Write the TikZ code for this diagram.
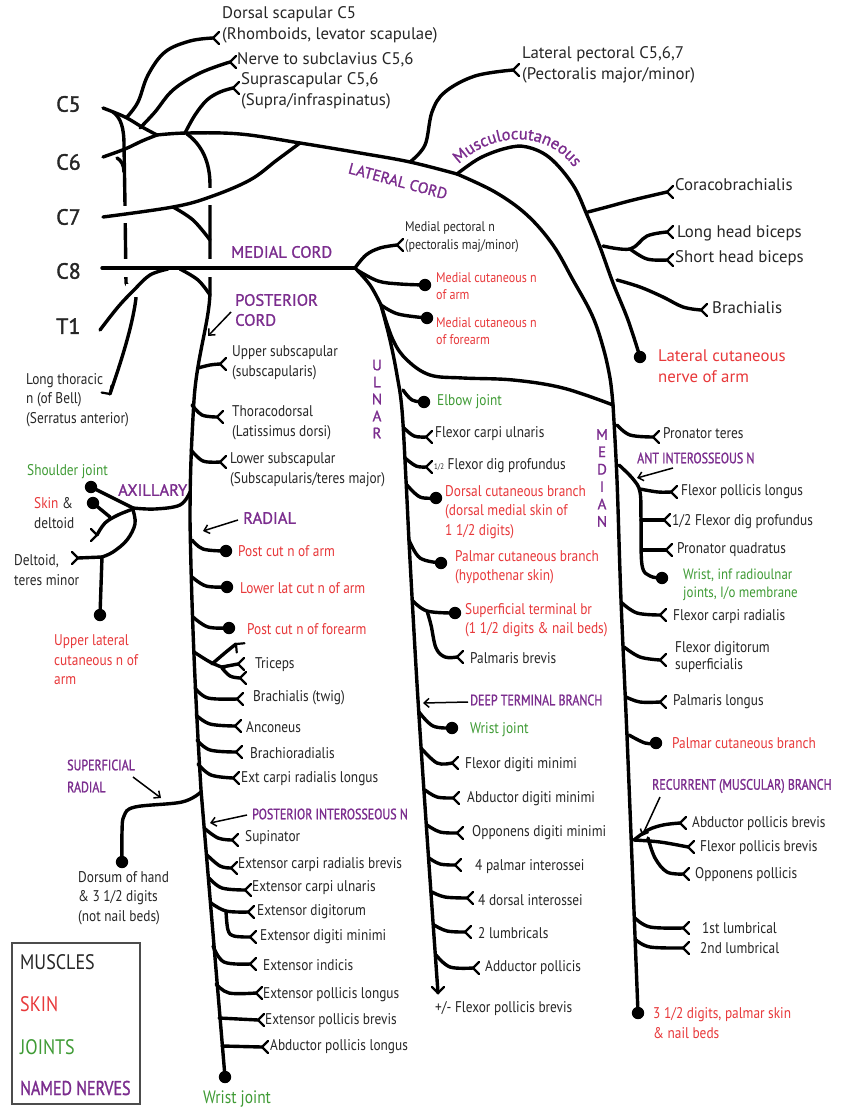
\documentclass[tikz,border=0pt]{standalone}
\usepackage{fontspec}
\setmainfont{PT Sans}
\newfontfamily\condfont[FakeStretch=0.86]{PT Sans}
\newfontfamily\purfont[FakeStretch=0.8,FakeBold=1.2]{PT Sans}
\newfontfamily\purwide[FakeBold=1.2]{PT Sans}
\newfontfamily\rootfont[FakeBold=1.6]{PT Sans}
\usetikzlibrary{arrows.meta,decorations.text}
\definecolor{npurple}{HTML}{7B2D8E}
\definecolor{nred}{HTML}{E8383A}
\definecolor{ngreen}{HTML}{3F9B35}
\definecolor{txt}{HTML}{262626}
\tikzset{
  nerve/.style={line width=3.4pt,line cap=round,line join=round},
  twig/.style={line width=2.2pt,line cap=round,line join=round},
  arr/.style={line width=1.5pt,-{Straight Barb[length=5pt,width=9pt]}},
  lab/.style={anchor=west,inner sep=0pt,align=left,text=txt,font=\condfont\fontsize{15.5}{19.5}\selectfont},
  labA/.style={anchor=west,inner sep=0pt,align=left,text=txt,font=\fontsize{16.8}{21}\selectfont},
  rootlab/.style={anchor=west,inner sep=0pt,text=txt,font=\rootfont\fontsize{22}{22}\selectfont},
  skin/.style={text=nred},
  joint/.style={text=ngreen},
  nn/.style={anchor=west,inner sep=0pt,align=left,text=npurple,font=\purwide\fontsize{16.5}{20}\selectfont},
  nns/.style={nn,font=\purfont\fontsize{15}{22}\selectfont},
  sp/.style={smooth,tension=0.6}
}
\newcommand\frk[2][0]{\draw[twig,shift={(#2)},rotate=#1] (0,0) -- (6,-6) (0,0) -- (6,6);}
\newcommand\dt[1]{\fill (#1) circle (6.2pt);}
\begin{document}
\begin{tikzpicture}[x=1pt,y=-1pt]
\useasboundingbox[fill=white] (0,0) rectangle (841,1110);

% ---------- roots region: lines that are crossed ----------
\draw[nerve] (113,112) .. controls (121,118) and (124,128) .. (124,145) -- (125,205) -- (126,283)
   .. controls (128,290) and (136,290) .. (136,298) .. controls (132,330) and (118,370) .. (110,394);
\draw[nerve] (117,158) .. controls (121,160) and (124,165) .. (124,172);
\frk[125]{110,394}
\draw[nerve] (187,134) .. controls (202,145) and (210,162) .. (210,185) -- (210,290)
   .. controls (210,320) and (197,355) .. (194,400) .. controls (191,450) and (190,480) .. (190,520)
   .. controls (192,640) and (198,740) .. (201,790) -- (225,1077);
\fill[white] (116,206) rectangle (134,223);
\fill[white] (117,259) rectangle (135,277);
\fill[white] (126,284) rectangle (143,297);
\fill[white] (202,188) rectangle (218,205);
\fill[white] (202,259) rectangle (218,277);

% ---------- roots and trunks ----------
\draw[nerve] plot[sp] coordinates {(103,217) (173,207) (210,197) (250,180) (277,160) (300,143)};
\draw[nerve] (102,268) -- (355,268);
\draw[nerve] plot[sp] coordinates {(100,330) (118,307) (134,290) (150,275) (168,269)};
\draw[nerve] plot[sp] coordinates {(103,108) (125,117) (142,127) (157,135)};
\draw[nerve] plot[sp] coordinates {(103,157) (125,149) (142,141) (157,135)};
\draw[nerve] plot[sp] coordinates {(157,135) (187,133) (240,134) (300,143) (360,153) (410,162) (457,174)};
\draw[nerve] plot[sp] coordinates {(173,207) (193,220) (210,240)};
\draw[nerve] plot[sp] coordinates {(180,269) (198,280) (210,295)};
\draw[nerve] plot[sp] coordinates {(127,117) (138,102) (148,75) (165,52) (190,41) (213,38)};
\frk{213,38}
\draw[nerve] plot[sp] coordinates {(140,128) (155,112) (173,90) (200,73) (230,62)};
\frk{230,62}
\draw[nerve] plot[sp] coordinates {(185,133) (195,115) (207,100) (220,92) (233,88)};
\frk{233,88}
\draw[nerve] plot[sp] coordinates {(410,162) (425,145) (432,112) (445,92) (475,76) (513,70)};
\frk{513,70}
\draw[nerve] plot[sp] coordinates {(457,174) (495,192) (527,215) (553,245) (573,280) (592,315) (603,347) (610,378) (613,405)};
\draw[nerve] plot[sp] coordinates {(457,174) (480,158) (507,148) (527,147) (550,158) (573,185) (587,215) (600,247) (613,283) (628,320) (640,357)};
\dt{640,357}
\draw[nerve] plot[sp] coordinates {(588,212) (607,207) (633,200) (667,192)};
\frk{667,192}
\draw[nerve] plot[sp] coordinates {(603,246) (630,249) (647,236) (667,232)};
\draw[nerve] plot[sp] coordinates {(630,249) (647,259) (667,260)};
\frk{667,232}\frk{667,260}
\draw[nerve] plot[sp] coordinates {(617,280) (640,287) (663,297) (683,307) (701,310)};
\frk{701,310}

% ---------- medial cord ----------
\draw[nerve] plot[sp] coordinates {(355,268) (366,255) (380,248) (397,245)};
\frk{397,245}
\draw[nerve] plot[sp] coordinates {(357,270) (378,281) (400,284) (425,285)};
\dt{425,285}
\draw[nerve] plot[sp] coordinates {(355,268) (370,285) (381,305)};
\draw[nerve] plot[sp] coordinates {(381,305) (398,314) (427,318)};
\dt{427,318}
\draw[nerve] plot[sp] coordinates {(381,305) (390,340) (397,375) (402,410) (406,480) (410,560) (418,700) (428,850) (438,993)};
\frk[90]{438,993}
\draw[nerve] plot[sp] coordinates {(381,305) (393,340) (407,360) (430,375) (463,378) (513,380) (563,388) (613,405)};
\draw[nerve] plot[sp] coordinates {(613,405) (617,480) (621,600) (628,760) (638,1013)};
\dt{638,1013}

% ---------- median branches ----------
\draw[nerve] plot[sp] coordinates {(617,425) (630,435) (653,437)}; \frk{653,437}
\draw[nerve] plot[sp] coordinates {(619,465) (633,479) (640,492) (641,520) (642,565) (650,576) (662,578)}; \dt{662,578}
\draw[nerve] plot[sp] coordinates {(640,489) (658,492) (671,492)}; \frk{671,492}
\draw[nerve] (641,520) -- (664,520); \frk{664,520}
\draw[nerve] (642,550) -- (666,550); \frk{666,550}
\draw[nerve] plot[sp] coordinates {(622,603) (637,613) (660,615)}; \frk{660,615}
\draw[nerve] plot[sp] coordinates {(624,647) (640,657) (660,660)}; \frk{660,660}
\draw[nerve] plot[sp] coordinates {(626,697) (640,702) (660,702)}; \frk{660,702}
\draw[nerve] plot[sp] coordinates {(629,735) (645,743) (656,743)}; \dt{656,743}
\draw[nerve] plot[sp] coordinates {(634,840) (648,830) (663,825) (680,823)}; \frk{680,823}
\draw[nerve] plot[sp] coordinates {(634,840) (660,842) (688,847)}; \frk{688,847}
\draw[nerve] plot[sp] coordinates {(648,838) (655,858) (667,872) (683,874)}; \frk{683,874}
\draw[nerve] plot[sp] coordinates {(635,918) (650,927) (683,928)}; \frk{683,928}
\draw[nerve] plot[sp] coordinates {(636,940) (650,947) (683,948)}; \frk{683,948}

% ---------- ulnar branches ----------
\draw[nerve] plot[sp] coordinates {(403,390) (412,400) (424,402)}; \dt{424,402}
\draw[nerve] plot[sp] coordinates {(404,428) (414,436) (426,437)}; \frk{426,437}
\draw[nerve] plot[sp] coordinates {(405,458) (416,466) (426,467)}; \frk{426,467}
\draw[nerve] plot[sp] coordinates {(407,485) (420,497) (436,498)}; \dt{436,498}
\draw[nerve] plot[sp] coordinates {(409,540) (420,558) (441,563)}; \dt{441,563}
\draw[nerve] plot[sp] coordinates {(412,600) (427,611) (455,613)}; \dt{455,613}
\draw[nerve] plot[sp] coordinates {(427,611) (431,625) (436,648) (445,657) (457,657)}; \frk{457,657}
\draw[nerve] plot[sp] coordinates {(419,712) (433,726) (452,728)}; \dt{452,728}
\draw[nerve] plot[sp] coordinates {(421,748) (437,763) (452,763)}; \frk{452,763}
\draw[nerve] plot[sp] coordinates {(425,790) (437,797) (453,798)}; \frk{453,798}
\draw[nerve] plot[sp] coordinates {(427,825) (440,832) (457,833)}; \frk{457,833}
\draw[nerve] plot[sp] coordinates {(429,858) (440,864) (455,865)}; \frk{455,865}
\draw[nerve] plot[sp] coordinates {(432,892) (445,897) (467,898)}; \frk{467,898}
\draw[nerve] plot[sp] coordinates {(434,925) (447,931) (465,932)}; \frk{465,932}
\draw[nerve] plot[sp] coordinates {(436,955) (450,967) (473,968)}; \frk{473,968}

% ---------- posterior cord branches ----------
\draw[nerve] plot[sp] coordinates {(198,368) (210,365) (220,364)}; \frk{220,364}
\draw[nerve] plot[sp] coordinates {(192,405) (202,415) (217,417)}; \frk{217,417}
\draw[nerve] plot[sp] coordinates {(191,450) (203,461) (220,462)}; \frk{220,462}
\draw[nerve] plot[sp] coordinates {(190,492) (180,505) (155,509) (133,508)};
\draw[nerve] (133,508) -- (111,497) -- (91,487); \dt{91,487}
\draw[nerve] plot[sp] coordinates {(133,509) (118,515) (105,523) (97,535)}; \frk[180]{97,535}
\draw[nerve] (110,517) -- (93,503); \dt{93,503}
\draw[nerve] plot[sp] coordinates {(133,510) (135,524) (127,540) (113,552) (102,557)};
\draw[nerve] (102,557) -- (100,615); \dt{100,615}
\draw[nerve] (102,557) -- (78,558); \frk[180]{78,558}
\draw[nerve] plot[sp] coordinates {(192,540) (203,549) (224,551)}; \dt{226,551}
\draw[nerve] plot[sp] coordinates {(192,577) (206,586) (226,587)}; \dt{227,587}
\draw[nerve] plot[sp] coordinates {(193,617) (208,627) (229,628)}; \dt{229,628}
\draw[nerve] plot[sp] coordinates {(194,652) (210,662) (224,668)};
\draw[nerve] plot[sp] coordinates {(212,664) (226,652) (236,644)}; \frk[-40]{236,644}
\draw[nerve] (222,667) -- (238,664); \frk{238,664}
\draw[nerve] plot[sp] coordinates {(222,668) (230,676) (240,678)}; \frk{240,678}
\draw[nerve] plot[sp] coordinates {(195,688) (208,698) (237,699)}; \frk{237,699}
\draw[nerve] plot[sp] coordinates {(196,715) (210,724) (235,726)}; \frk{235,726}
\draw[nerve] plot[sp] coordinates {(197,740) (210,750) (236,752)}; \frk{236,752}
\draw[nerve] plot[sp] coordinates {(198,764) (211,775) (233,778)}; \frk{233,778}
\draw[nerve] plot[sp] coordinates {(201,792) (182,802) (135,807) (124,816) (122,832) (122,862)}; \dt{122,862}
\draw[nerve] plot[sp] coordinates {(204,828) (218,838) (232,840)}; \frk{232,840}
\draw[nerve] plot[sp] coordinates {(207,855) (220,866) (231,868)}; \frk{231,868}
\draw[nerve] plot[sp] coordinates {(209,878) (222,888) (245,890)}; \frk{245,890}
\draw[nerve] plot[sp] coordinates {(211,903) (226,911) (248,912)}; \frk{248,912}
\draw[nerve] plot[sp] coordinates {(226,911) (228,930) (234,936) (250,937)}; \frk{250,937}
\draw[nerve] plot[sp] coordinates {(213,946) (224,962) (250,964)}; \frk{250,964}
\draw[nerve] plot[sp] coordinates {(216,984) (229,993) (256,993)}; \frk{256,993}
\draw[nerve] (219,1018) -- (258,1020); \frk{258,1020}
\draw[nerve] (222,1046) -- (262,1047); \frk{262,1047}
\dt{225,1077}

% ---------- arrows ----------
\draw[arr] (231,312) -- (208,336);
\draw[arr] (238,520) -- (203,531);
\draw[arr] (133,777) -- (161,798);
\draw[arr] (247,815) -- (210,823);
\draw[arr] (673,468) -- (637,478);
\draw[arr] (468,702) -- (423,703);
\draw[arr] (660,797) -- (642,836);

% ---------- root labels ----------
\node[rootlab] (c5) at (56,104) {C5};
\node[rootlab] (c6) at (56,162) {C6};
\node[rootlab] (c7) at (56,217) {C7};
\node[rootlab] (c8) at (56,271) {C8};
\node[rootlab] (t1) at (56,326) {T1};

% ---------- upper labels ----------
\node[labA] (ds) at (222,24.5) {Dorsal scapular C5\\(Rhomboids, levator scapulae)};
\node[labA] (nsc) at (237,60) {Nerve to subclavius C5,6};
\node[labA] (ssc) at (241,91) {Suprascapular C5,6\\(Supra/infraspinatus)};
\node[labA] (lpe) at (522,65) {Lateral pectoral C5,6,7\\(Pectoralis major/minor)};
\node[labA] (cbr) at (675,185) {Coracobrachialis};
\node[labA] (lhb) at (677,233) {Long head biceps};
\node[labA] (shb) at (675,258) {Short head biceps};
\node[labA] (brl) at (712,308) {Brachialis};
\node[labA,skin] (lcn) at (658,366) {Lateral cutaneous\\nerve of arm};

% named nerves
\node[nn,anchor=center,rotate=-15,font=\purwide\fontsize{15.5}{20}\selectfont] (lcord) at (398,181) {LATERAL CORD};
\path[decorate,decoration={text along path,text align=center,text={|\purwide\fontsize{16.5}{16.5}\selectfont\color{npurple}|Musculocutaneous}}]
  (455,168) .. controls (490,130) and (550,128) .. (577,172);
\node[nn] (mcord) at (231,252) {MEDIAL CORD};
\node[nn] (pcord) at (235,310) {POSTERIOR\\CORD};
\node[nn] (axl) at (118,490) {AXILLARY};
\node[nn] (rad) at (243,518) {RADIAL};
\node[nns] (srad) at (67,776) {SUPERFICIAL\\RADIAL};
\node[nns] (pin) at (252,814) {POSTERIOR INTEROSSEOUS N};
\node[nns] (ain) at (637,458) {ANT INTEROSSEOUS N};
\node[nns] (dtb) at (470,700) {DEEP TERMINAL BRANCH};
\node[nns] (rec) at (652,786) {RECURRENT (MUSCULAR) BRANCH};
\node[nn,anchor=center,align=center,font=\purwide\fontsize{15}{17}\selectfont] (uln) at (377,399) {U\\L\\N\\A\\R};
\node[nn,anchor=center,align=center,font=\purwide\fontsize{15}{17.4}\selectfont] (med) at (602,478) {M\\E\\D\\I\\A\\N};

% medial cord labels
\node[lab,font=\condfont\fontsize{14}{18}\selectfont] (mpn) at (405,237) {Medial pectoral n\\(pectoralis maj/minor)};
\node[lab,skin,font=\condfont\fontsize{14}{17}\selectfont] (mca) at (436,286) {Medial cutaneous n\\of arm};
\node[lab,skin,font=\condfont\fontsize{14}{17}\selectfont] (mcf) at (436,331) {Medial cutaneous n\\of forearm};

% posterior cord labels
\node[lab] (uss) at (232,363) {Upper subscapular\\(subscapularis)};
\node[lab] (lth) at (26,400) {Long thoracic\\n (of Bell)\\(Serratus anterior)};
\node[lab] (thd) at (232,423) {Thoracodorsal\\(Latissimus dorsi)};
\node[lab] (lss) at (230,470) {Lower subscapular\\(Subscapularis/teres major)};
\node[lab,joint] (shj) at (27,472) {Shoulder joint};
\node[lab] (skd) at (34,513) {\textcolor{nred}{Skin} \&\\deltoid};
\node[lab] (dtm) at (14,570) {Deltoid,\\teres minor};
\node[lab,skin] (ulc) at (54,660) {Upper lateral\\cutaneous n of\\arm};
\node[lab,skin] (pca) at (238,551) {Post cut n of arm};
\node[lab,skin] (llc) at (240,588) {Lower lat cut n of arm};
\node[lab,skin] (pcf) at (247,629) {Post cut n of forearm};
\node[lab] (tri) at (255,665) {Triceps};
\node[lab] (btw) at (253,698) {Brachialis (twig)};
\node[lab] (anc) at (246,727) {Anconeus};
\node[lab] (brr) at (250,753) {Brachioradialis};
\node[lab] (ecrl) at (241,779) {Ext carpi radialis longus};
\node[lab] (dor) at (78,898) {Dorsum of hand\\\& 3 1/2 digits\\(not nail beds)};
\node[lab] (sup) at (245,838) {Supinator};
\node[lab] (ecrb) at (238,865) {Extensor carpi radialis brevis};
\node[lab] (ecu) at (252,888) {Extensor carpi ulnaris};
\node[lab] (edg) at (257,912) {Extensor digitorum};
\node[lab] (edm) at (260,937) {Extensor digiti minimi};
\node[lab] (eid) at (263,965) {Extensor indicis};
\node[lab] (epl) at (263,995) {Extensor pollicis longus};
\node[lab] (epb) at (265,1021) {Extensor pollicis brevis};
\node[lab] (apl) at (270,1047) {Abductor pollicis longus};
\node[lab,joint,font=\condfont\fontsize{18}{19}\selectfont] (wj1) at (203,1099) {Wrist joint};

% ulnar labels
\node[lab,joint] (elb) at (437,402) {Elbow joint};
\node[lab] (fcu) at (435,434) {Flexor carpi ulnaris};
\node[lab] (fdpu) at (434,466) {{\fontsize{8}{8}\selectfont 1/2} Flexor dig profundus};
\node[lab,skin] (dcb) at (445,512) {Dorsal cutaneous branch\\(dorsal medial skin of\\1 1/2 digits)};
\node[lab,skin] (pcbu) at (455,567) {Palmar cutaneous branch\\(hypothenar skin)};
\node[lab,skin] (stb) at (465,620) {Superficial terminal br\\(1 1/2 digits \& nail beds)};
\node[lab] (pbr) at (470,658) {Palmaris brevis};
\node[lab,joint] (wj2) at (470,730) {Wrist joint};
\node[lab] (fdm) at (465,765) {Flexor digiti minimi};
\node[lab] (adm) at (467,799) {Abductor digiti minimi};
\node[lab] (odm) at (472,833) {Opponens digiti minimi};
\node[lab] (pin4) at (475,867) {4 palmar interossei};
\node[lab] (din4) at (478,900) {4 dorsal interossei};
\node[lab] (lum2) at (478,933) {2 lumbricals};
\node[lab] (adp) at (485,968) {Adductor pollicis};
\node[lab] (fpbu) at (435,1009) {+/- Flexor pollicis brevis};

% median labels
\node[lab] (prt) at (663,433) {Pronator teres};
\node[lab] (fpl) at (681,492) {Flexor pollicis longus};
\node[lab] (fdpm) at (672,522) {1/2 Flexor dig profundus};
\node[lab] (prq) at (677,550) {Pronator quadratus};
\node[lab,joint,font=\condfont\fontsize{15}{17.5}\selectfont] (wri) at (683,585) {Wrist, inf radioulnar\\joints, I/o membrane};
\node[lab] (fcr) at (673,617) {Flexor carpi radialis};
\node[lab,font=\condfont\fontsize{15.5}{17.5}\selectfont] (fds) at (675,657) {Flexor digitorum\\superficialis};
\node[lab] (pal) at (673,702) {Palmaris longus};
\node[lab,skin] (pcbm) at (672,743) {Palmar cutaneous branch};
\node[lab] (apb) at (692,824) {Abductor pollicis brevis};
\node[lab] (fpb) at (700,848) {Flexor pollicis brevis};
\node[lab] (opp) at (695,875) {Opponens pollicis};
\node[lab] (l1) at (702,928) {1st lumbrical};
\node[lab] (l2) at (700,948) {2nd lumbrical};
\node[lab,skin] (dig) at (653,1023) {3 1/2 digits, palmar skin\\\& nail beds};

% legend
\draw[line width=1.3pt,black!70] (12,943) rectangle (140,1104);
\node[lab,font=\condfont\fontsize{21}{21}\selectfont] (lgm) at (20,962) {MUSCLES};
\node[lab,skin,font=\condfont\fontsize{21}{21}\selectfont] (lgs) at (20,1004) {SKIN};
\node[lab,joint,font=\condfont\fontsize{21}{21}\selectfont] (lgj) at (20,1047) {JOINTS};
\node[nn,font=\purfont\fontsize{20}{20}\selectfont] (lgn) at (20,1088) {NAMED NERVES};
\end{tikzpicture}
\end{document}
